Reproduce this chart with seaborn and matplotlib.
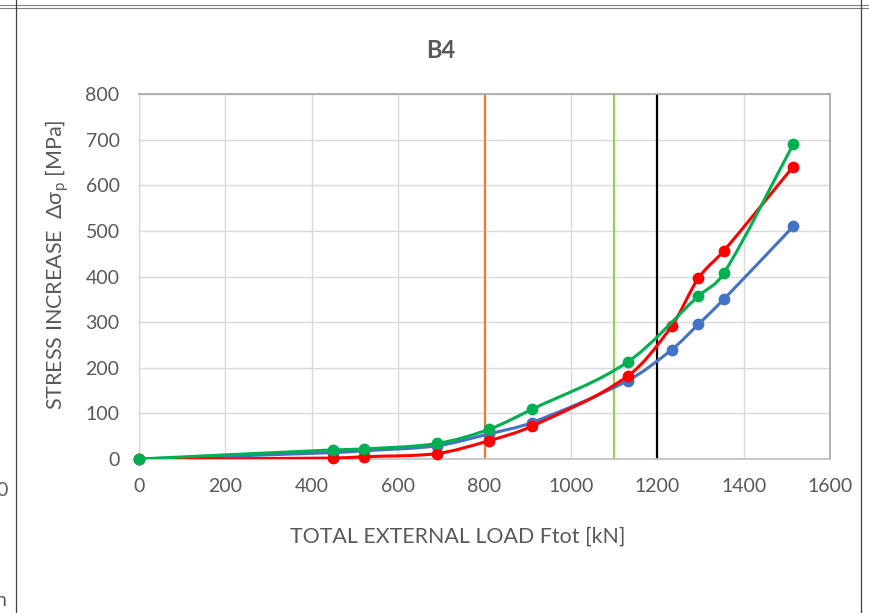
import numpy as np
import pandas as pd
import matplotlib
matplotlib.use("Agg")
import matplotlib.pyplot as plt
from matplotlib.path import Path
from matplotlib.patches import PathPatch
from matplotlib.lines import Line2D
import seaborn as sns

# ---------------- data ----------------
load_kN = [0, 450, 520, 690, 810, 910, 1132, 1234, 1295, 1354, 1515]
blue_vals = [0, 14, 18, 29, 55, 80, 172, 240, 295, 350, 510]
red_vals = [0, 2, 5, 12, 40, 72, 182, 292, 396, 456, 641]
green_vals = [0, 20, 22, 34, 65, 109, 213, np.nan, 357, 407, 690]
series_names = ["blue", "red", "green"]
series_colors = ["#4472C4", "#FF0000", "#00B050"]
vlines_x = [800, 1100, 1200]
vlines_colors = ["#ED7D31", "#92D050", "#000000"]
x_ticks = [0, 200, 400, 600, 800, 1000, 1200, 1400, 1600]
y_ticks = [0, 100, 200, 300, 400, 500, 600, 700, 800]
title = "B4"
x_label = "TOTAL EXTERNAL LOAD Ftot [kN]"
y_label = "STRESS INCREASE  Δσ$_{\\mathregular{p}}$ [MPa]"

rows = []
for name, vals in zip(series_names, [blue_vals, red_vals, green_vals]):
    for x, y in zip(load_kN, vals):
        if not np.isnan(y):
            rows.append({"load": x, "stress": y, "series": name})
df = pd.DataFrame(rows)

# ---------------- style ----------------
sns.set_theme(style="white")
plt.rcParams["font.family"] = ["Lato", "DejaVu Sans"]
text_color = "#595959"

fig = plt.figure(figsize=(8.69, 6.13), dpi=100)
W, H = 869, 613
ax = fig.add_axes([139 / W, 1 - 459 / H, (830 - 139) / W, (459 - 94) / H])

ax.set_xlim(0, 1600)
ax.set_ylim(0, 800)
ax.set_xticks(x_ticks)
ax.set_yticks(y_ticks)
ax.grid(True, color="#D9D9D9", linewidth=1.0)
ax.set_axisbelow(True)
ax.tick_params(axis="both", length=0, labelsize=14, labelcolor=text_color)
ax.tick_params(axis="x", pad=14)
ax.tick_params(axis="y", pad=14)
for side in ["top", "right"]:
    ax.spines[side].set_color("#A6A6A6")
    ax.spines[side].set_linewidth(1.2)
ax.spines["left"].set_color("#D9D9D9")
ax.spines["bottom"].set_color("#BFBFBF")
ax.spines["left"].set_linewidth(1.0)
ax.spines["bottom"].set_linewidth(1.2)

# vertical reference lines
for xv, c in zip(vlines_x, vlines_colors):
    ax.axvline(xv, color=c, linewidth=1.6, zorder=2)


def smooth_path(xs, ys):
    n = len(xs)
    slopes = np.zeros(n)
    for i in range(n):
        a = max(i - 1, 0)
        b = min(i + 1, n - 1)
        slopes[i] = (ys[b] - ys[a]) / (xs[b] - xs[a])
    verts = [(xs[0], ys[0])]
    codes = [Path.MOVETO]
    for i in range(n - 1):
        h = xs[i + 1] - xs[i]
        verts += [(xs[i] + h / 3, ys[i] + slopes[i] * h / 3),
                  (xs[i + 1] - h / 3, ys[i + 1] - slopes[i + 1] * h / 3),
                  (xs[i + 1], ys[i + 1])]
        codes += [Path.CURVE4] * 3
    return Path(verts, codes)


for i, (name, color) in enumerate(zip(series_names, series_colors)):
    sub = df[df["series"] == name]
    path = smooth_path(sub["load"].to_numpy(float), sub["stress"].to_numpy(float))
    ax.add_patch(PathPatch(path, facecolor="none", edgecolor=color,
                           linewidth=2.2, zorder=3 + 2 * i, capstyle="round",
                           joinstyle="round"))
    sns.scatterplot(data=sub, x="load", y="stress", color=color, s=72,
                    edgecolor=color, linewidth=0, ax=ax, zorder=4 + 2 * i,
                    legend=False, clip_on=False)

ax.set_xlabel("")
ax.set_ylabel(y_label, fontsize=15.5, color=text_color)
ax.yaxis.set_label_coords(-0.098, 0.532)

fig.text(441 / W, 1 - 50 / H, title, ha="center", va="center",
         fontsize=17, fontweight="bold", color=text_color)
fig.text(458 / W, 1 - 537 / H, x_label, ha="center", va="center",
         fontsize=15.4, color=text_color)

# outer frame fragments from the surrounding sheet
frame_c = "#7F7F7F"
fig.add_artist(Line2D([0, 1], [1 - 5 / H, 1 - 5 / H], transform=fig.transFigure,
                      color=frame_c, linewidth=0.8))
fig.add_artist(Line2D([0, 1], [1 - 7.5 / H, 1 - 7.5 / H], transform=fig.transFigure,
                      color=frame_c, linewidth=0.8))
fig.add_artist(Line2D([15.5 / W, 15.5 / W], [0, 1], transform=fig.transFigure,
                      color="#404040", linewidth=0.9))
fig.add_artist(Line2D([861 / W, 861 / W], [0, 1], transform=fig.transFigure,
                      color="#404040", linewidth=0.9))
fig.text(-4 / W, 1 - 490 / H, "0", ha="left", va="center", fontsize=14,
         color=text_color)
fig.text(-4 / W, 1 - 600 / H, "n", ha="left", va="center", fontsize=14,
         color=text_color)

fig.savefig("out.png", dpi=100, facecolor="white")
